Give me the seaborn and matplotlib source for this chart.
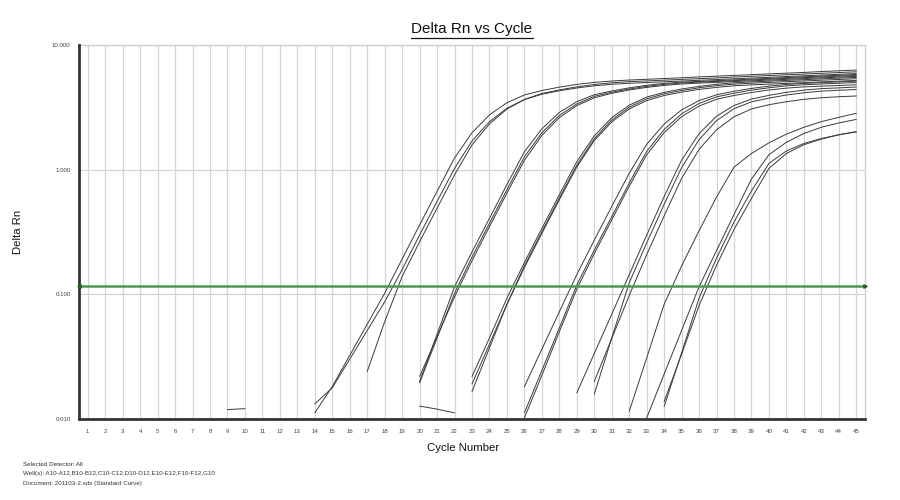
import matplotlib
matplotlib.use("Agg")
import matplotlib.pyplot as plt
from matplotlib.ticker import NullLocator
from matplotlib.lines import Line2D
import pandas as pd
import seaborn as sns

# ---------------- data (Delta Rn per cycle, None = not plotted) ----------------
cycles = list(range(1, 46))
cycle_tick_labels = [str(c) for c in cycles]
rn_tick_values = [0.01, 0.1, 1.0, 10.0]
rn_tick_labels = ["0.010", "0.100", "1.000", "10.000"]
threshold = 0.116

A10 = [None] * 13 + [0.0112, 0.0182, 0.0324, 0.0575, 0.102, 0.192, 0.360, 0.670, 1.242, 1.977,
                     2.754, 3.443, 3.972, 4.315, 4.592, 4.831, 5.012, 5.140, 5.236, 5.309,
                     5.383, 5.458, 5.546, 5.623, 5.702, 5.781, 5.861, 5.943, 6.026, 6.124,
                     6.209, 6.295]
A11 = [None] * 13 + [0.0132, 0.0178, 0.0302, 0.0513, 0.0871, 0.158, 0.299, 0.556, 1.023, 1.698,
                     2.427, 3.108, 3.652, 4.027, 4.291, 4.519, 4.705, 4.842, 4.932, 5.000,
                     5.070, 5.140, 5.212, 5.284, 5.358, 5.433, 5.508, 5.585, 5.662, 5.741,
                     5.821, 5.902]
A12 = [None] * 16 + [0.0240, 0.0603, 0.139, 0.264, 0.491, 0.910, 1.581, 2.328, 3.062, 3.656,
                     4.083, 4.365, 4.613, 4.819, 4.977, 5.082, 5.152, 5.224, 5.297, 5.370,
                     5.445, 5.534, 5.610, 5.689, 5.768, 5.848, 5.929, 6.012, 6.095]
B10 = [None] * 19 + [0.0200, 0.0479, 0.115, 0.219, 0.407, 0.759, 1.393, 2.123, 2.877, 3.508,
                     3.990, 4.276, 4.529, 4.753, 4.920, 5.035, 5.105, 5.176, 5.248, 5.321,
                     5.395, 5.483, 5.559, 5.636, 5.715, 5.794]
B11 = [None] * 19 + [0.0195, 0.0447, 0.102, 0.199, 0.371, 0.691, 1.268, 1.977, 2.723, 3.365,
                     3.873, 4.178, 4.436, 4.656, 4.831, 4.955, 5.035, 5.105, 5.176, 5.248,
                     5.321, 5.395, 5.470, 5.546, 5.623, 5.702]
B12 = [None] * 19 + [0.0219, 0.0457, 0.0955, 0.186, 0.349, 0.649, 1.189, 1.884, 2.615, 3.266,
                     3.767, 4.098, 4.355, 4.571, 4.742, 4.869, 4.950, 5.018, 5.088, 5.158,
                     5.230, 5.303, 5.376, 5.452, 5.527, 5.605]
C10 = [None] * 22 + [0.0219, 0.0447, 0.0933, 0.180, 0.338, 0.630, 1.159, 1.866, 2.612, 3.289,
                     3.819, 4.169, 4.436, 4.656, 4.842, 4.977, 5.058, 5.129, 5.200, 5.272,
                     5.346, 5.420, 5.495]
C11 = [None] * 22 + [0.0166, 0.0372, 0.0832, 0.169, 0.318, 0.592, 1.086, 1.770, 2.500, 3.170,
                     3.698, 4.055, 4.315, 4.539, 4.721, 4.853, 4.938, 5.007, 5.077, 5.147,
                     5.219, 5.291, 5.365]
C12 = [None] * 22 + [0.0191, 0.0398, 0.0832, 0.164, 0.308, 0.573, 1.050, 1.710, 2.415, 3.069,
                     3.581, 3.936, 4.188, 4.406, 4.571, 4.710, 4.786, 4.853, 4.920, 4.989,
                     5.058, 5.129, 5.200]
D10 = [None] * 25 + [0.0182, 0.0363, 0.0724, 0.144, 0.272, 0.507, 0.935, 1.596, 2.320, 3.018,
                     3.581, 3.986, 4.256, 4.487, 4.677, 4.826, 4.920, 4.989, 5.058, 5.129]
D11 = [None] * 25 + [0.0112, 0.0245, 0.0537, 0.1186, 0.226, 0.420, 0.782, 1.400, 2.099, 2.805,
                     3.396, 3.837, 4.102, 4.345, 4.539, 4.699, 4.797, 4.864, 4.932, 5.000]
D12 = [None] * 25 + [0.0102, 0.0224, 0.0501, 0.110, 0.212, 0.395, 0.735, 1.315, 1.982, 2.661,
                     3.236, 3.673, 3.936, 4.159, 4.355, 4.508, 4.613, 4.677, 4.732, 4.797]
E10 = [None] * 28 + [0.0162, 0.0335, 0.0692, 0.1435, 0.298, 0.608, 1.191, 1.945, 2.685, 3.273,
                     3.681, 3.945, 4.169, 4.345, 4.467, 4.529, 4.603]
E11 = [None] * 29 + [0.0158, 0.0447, 0.1236, 0.258, 0.527, 1.038, 1.742, 2.472, 3.083, 3.499,
                     3.750, 3.972, 4.140, 4.266, 4.335, 4.395]
E12 = [None] * 29 + [0.0200, 0.0442, 0.0977, 0.208, 0.426, 0.850, 1.455, 2.089, 2.655, 3.069,
                     3.319, 3.508, 3.664, 3.776, 3.846, 3.899]
F10 = ([None] * 19 + [0.0127, 0.0120, 0.0112] + [None] * 9 +
       [0.0115, 0.0309, 0.0832, 0.169, 0.324, 0.603, 1.047, 1.349, 1.641, 1.928,
        2.188, 2.427, 2.630, 2.831])
F11 = ([None] * 8 + [0.0119, 0.0121] + [None] * 22 +
       [0.0102, 0.0229, 0.0513, 0.115, 0.224, 0.437, 0.841, 1.318, 1.660, 1.950,
        2.188, 2.371, 2.529])
F12 = [None] * 33 + [0.0126, 0.0339, 0.0933, 0.195, 0.380, 0.676, 1.122, 1.413, 1.622, 1.778,
                     1.905, 2.009]
G10 = [None] * 33 + [0.0138, 0.0331, 0.0813, 0.171, 0.331, 0.589, 1.023, 1.349, 1.585, 1.758,
                     1.905, 2.018]

well_names = ["A10", "A11", "A12", "B10", "B11", "B12", "C10", "C11", "C12",
              "D10", "D11", "D12", "E10", "E11", "E12", "F10", "F11", "F12", "G10"]
well_series = [A10, A11, A12, B10, B11, B12, C10, C11, C12,
               D10, D11, D12, E10, E11, E12, F10, F11, F12, G10]

footer_lines = ["Selected Detector: All",
                "Well(s): A10-A12,B10-B12,C10-C12,D10-D12,E10-E12,F10-F12,G10",
                "Document: 201103-2.sds (Standard Curve)"]

# ---------------- long-form table, gaps split into separate units ----------------
rows = []
for name, vals in zip(well_names, well_series):
    seg = 0
    for c, v in zip(cycles, vals):
        if v is None:
            seg += 1
            continue
        rows.append({"well": name, "unit": f"{name}_{seg}", "cycle": c, "rn": v})
df = pd.DataFrame(rows)

# ---------------- style ----------------
sns.set_theme(style="white")
plt.rcParams["font.family"] = ["Liberation Sans", "DejaVu Sans"]

W, H = 900, 500
fig = plt.figure(figsize=(9, 5), dpi=100)
ax_l, ax_r, ax_t, ax_b = 79, 865, 45, 419
ax = fig.add_axes([ax_l / W, 1 - ax_b / H, (ax_r - ax_l) / W, (ax_b - ax_t) / H])

sns.lineplot(data=df, x="cycle", y="rn", units="unit", estimator=None,
             color="#3a3a3a", linewidth=0.7, ax=ax, legend=False, zorder=3)

ax.set_yscale("log")
ax.set_xlim(0.5, 45.5)
ax.set_ylim(0.01, 10)
ax.set_xticks(cycles)
ax.set_xticklabels(cycle_tick_labels, fontsize=4.4, color="#444444")
ax.set_yticks(rn_tick_values)
ax.set_yticklabels(rn_tick_labels, fontsize=4.4, color="#444444")
ax.yaxis.set_minor_locator(NullLocator())
ax.tick_params(axis="both", length=0)
ax.tick_params(axis="x", pad=7)
ax.tick_params(axis="y", pad=6)

ax.set_axisbelow(True)
ax.grid(True, axis="x", color="#d4d4d4", linewidth=0.9)
ax.grid(True, axis="y", which="major", color="#d4d4d4", linewidth=0.9)

for side in ("left", "bottom"):
    ax.spines[side].set_color("#333333")
    ax.spines[side].set_linewidth(2.0)
    ax.spines[side].set_zorder(5)
for side in ("top", "right"):
    ax.spines[side].set_color("#cfcfcf")
    ax.spines[side].set_linewidth(1.0)

# threshold line
x0, x1 = ax.get_xlim()
ax.plot([x0, x1], [threshold, threshold], color="#4a9a4a", linewidth=1.8,
        zorder=4, clip_on=False)
ax.plot([x1], [threshold], marker=">", markersize=2.5, color="#2d5a2d",
        zorder=6, clip_on=False)
ax.plot([x0], [threshold], marker="<", markersize=2.5, color="#2d5a2d",
        zorder=6, clip_on=False)

# labels
ax.set_xlabel("Cycle Number", fontsize=8.2, color="#111111", va="top")
ax.xaxis.set_label_coords((463.5 - ax_l) / (ax_r - ax_l), -(443 - ax_b) / (ax_b - ax_t) * 1.0 - 0.0)
ax.set_ylabel("Delta Rn", fontsize=8.2, color="#111111")
ax.yaxis.set_label_coords((23 - ax_l) / (ax_r - ax_l), 0.5)

title = fig.text(472 / W, 1 - 33 / H, "Delta Rn vs Cycle", fontsize=11,
                 ha="center", va="baseline", color="#111111")

for i, line in enumerate(footer_lines):
    fig.text(23 / W, 1 - (465 + 9 * i) / H, line, fontsize=4.5,
             ha="left", va="center", color="#333333")

# underline the title
fig.canvas.draw()
bb = title.get_window_extent(fig.canvas.get_renderer())
uy = bb.y0 - 1.5
fig.add_artist(Line2D([bb.x0 / W, bb.x1 / W], [uy / H, uy / H],
                      transform=fig.transFigure, color="#111111", linewidth=0.9))

fig.savefig("out.png", dpi=100)
